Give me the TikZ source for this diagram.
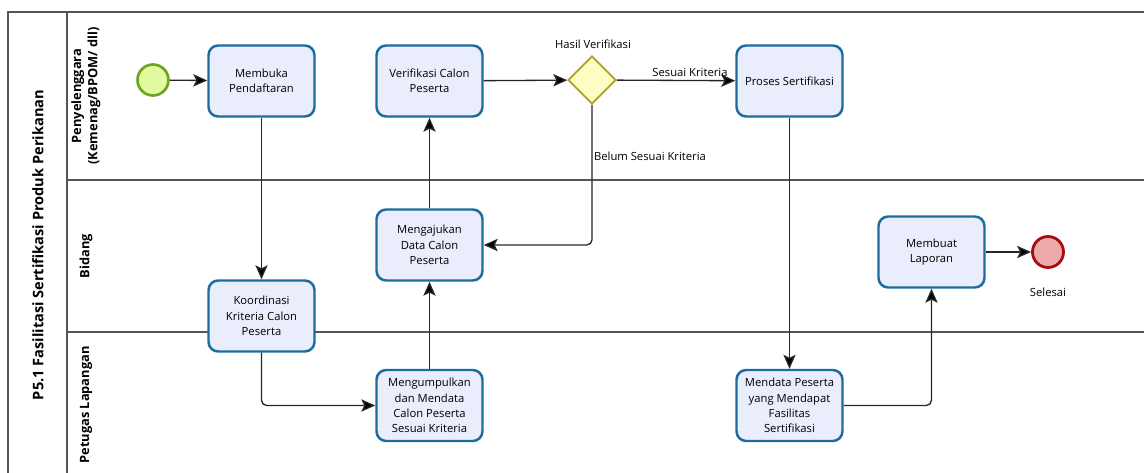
\documentclass[tikz,border=0pt]{standalone}
\usepackage{fontspec}
\setmainfont{Open Sans}
\usetikzlibrary{arrows.meta,shapes.geometric}
\definecolor{taskfill}{HTML}{EAEEFC}
\definecolor{taskline}{HTML}{1D6C9E}
\definecolor{startfill}{HTML}{E2FB9E}
\definecolor{startline}{HTML}{6BA424}
\definecolor{endfill}{HTML}{EDA9A9}
\definecolor{endline}{HTML}{A30F0F}
\definecolor{gatefill}{HTML}{FEFEC4}
\definecolor{gateline}{HTML}{A6A423}
\definecolor{poolline}{HTML}{555555}

\begin{document}
\begin{tikzpicture}[x=0.02cm,y=-0.02cm,
  task/.style={draw=taskline,fill=taskfill,line width=1.4pt,rounded corners=5.5pt,
    minimum width=2.12cm,minimum height=1.42cm,inner sep=1pt,align=center,
    font=\fontsize{6.4}{8.7}\selectfont},
  startev/.style={circle,draw=startline,fill=startfill,line width=1.5pt,minimum size=0.62cm,inner sep=0pt},
  endev/.style={circle,draw=endline,fill=endfill,line width=1.6pt,minimum size=0.62cm,inner sep=0pt},
  gate/.style={diamond,draw=gateline,fill=gatefill,line width=1pt,minimum width=0.96cm,minimum height=0.96cm,inner sep=0pt},
  lbl/.style={font=\fontsize{6.4}{8.7}\selectfont,inner sep=0pt},
  lanelab/.style={rotate=90,align=center,font=\bfseries\fontsize{7.3}{9.2}\selectfont},
  pool/.style={draw=poolline,line width=0.8pt},
  flow/.style={draw=black!85,line width=0.75pt,-{Stealth[length=8pt,width=7pt,inset=1.8pt,fill=black]}}]
\useasboundingbox (0,0) rectangle (1144,473);

% pool and lanes
\draw[pool] (8,480) -- (8,12) -- (1150,12);
\draw[pool] (67,12) -- (67,480);
\draw[pool] (67,180) -- (1150,180);
\draw[pool] (67,332) -- (1150,332);
\node[rotate=90,font=\bfseries\fontsize{8.3}{10}\selectfont] (pooltitle) at (38,245) {P5.1 Fasilitasi Sertifikasi Produk Perikanan};
\node[lanelab] (lane1) at (86,96) {Penyelenggara\\(Kemenag/BPOM/ dll)};
\node[lanelab] (lane2) at (86,256) {Bidang};
\node[lanelab] (lane3) at (86,405) {Petugas Lapangan};

% events, tasks and gateway
\node[startev] (mulai) at (153,80) {};
\node[task] (buka) at (261.5,81) {Membuka\\Pendaftaran};
\node[task] (verif) at (429.5,81) {Verifikasi Calon\\Peserta};
\node[gate] (hasil) at (592,80) {};
\node[lbl] (hasillbl) at (593,44) {Hasil Verifikasi};
\node[task] (proses) at (789.5,81) {Proses Sertifikasi};
\node[task] (ajukan) at (429.5,245) {Mengajukan\\Data Calon\\Peserta};
\node[task] (koord) at (261.5,316) {Koordinasi\\Kriteria Calon\\Peserta};
\node[task] (kumpul) at (429.5,405.5) {Mengumpulkan\\dan Mendata\\Calon Peserta\\Sesuai Kriteria};
\node[task] (laporan) at (931.5,252) {Membuat\\Laporan};
\node[endev] (selesai) at (1048,252) {};
\node[lbl] (selesailbl) at (1048,292) {Selesai};
\node[task] (mendata) at (789.5,405.5) {Mendata Peserta\\yang Mendapat\\Fasilitas\\Sertifikasi};

% sequence flows
\draw[flow] (mulai) -- (buka);
\draw[flow] (buka) -- (koord);
\draw[flow,rounded corners=3pt] (koord.south) |- (kumpul.west);
\draw[flow] (kumpul) -- (ajukan);
\draw[flow] (ajukan) -- (verif);
\draw[flow] (verif) -- (hasil);
\draw[flow] (hasil) -- (proses);
\node[lbl] (sesuai) at (690,72) {Sesuai Kriteria};
\draw[flow,rounded corners=3pt] (hasil.south) |- (ajukan.east);
\node[lbl] (belum) at (650,156) {Belum Sesuai Kriteria};
\draw[flow] (proses) -- (mendata);
\draw[flow,rounded corners=3pt] (mendata.east) -| (laporan.south);
\draw[flow] (laporan) -- (selesai);
\end{tikzpicture}
\end{document}
